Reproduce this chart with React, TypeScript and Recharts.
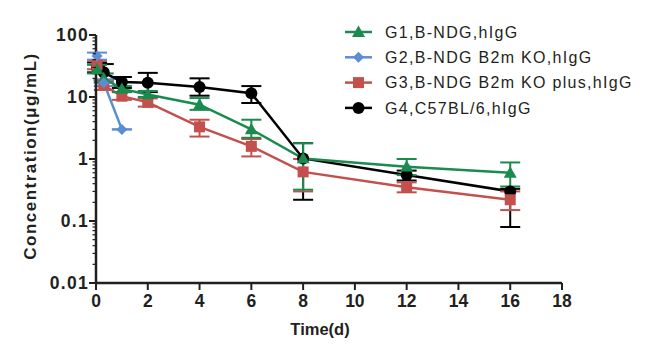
import { ErrorBar, Line, LineChart, XAxis, YAxis } from "recharts";

// sampling times (days) – the first two are the early hour time points
const timesFull = [0.04, 0.3, 1, 2, 4, 6, 8, 12, 16];
const timesG2 = [0.04, 0.3, 1];

const g1Mean = [28, 20, 13.5, 11, 7.5, 3, 1.02, 0.75, 0.6];
const g1Low = [24, 17, 12, 10, 6.2, 2.2, 0.32, 0.55, 0.36];
const g1High = [33, 24, 15, 12.5, 9.6, 4.3, 1.8, 1.0, 0.88];

const g2Mean = [46, 17, 3.0];
const g2Low = [40, 15, 3.0];
const g2High = [52, 19, 3.0];

const g3Mean = [33, 15.5, 10.3, 8.2, 3.3, 1.6, 0.62, 0.35, 0.22];
const g3Low = [28, 13, 9, 7, 2.3, 1.1, 0.3, 0.29, 0.15];
const g3High = [38, 18, 12, 9.5, 4.3, 2.1, 1.0, 0.42, 0.3];

const g4Mean = [30, 25, 17.5, 17, 14.5, 11.5, 1.02, 0.55, 0.3];
const g4Low = [25, 19, 14, 12, 10.5, 8, 0.22, 0.45, 0.08];
const g4High = [36, 34, 21, 24.5, 20, 15, 1.8, 0.65, 0.33];

const xTicks = [0, 2, 4, 6, 8, 10, 12, 14, 16, 18];
const decades = [0.01, 0.1, 1, 10, 100];
const minorSteps = [2, 3, 4, 5, 6, 7, 8, 9];

const FONT = "'Liberation Sans', Arial, Helvetica, sans-serif";
const INK = "#231f20";

type Shape = "triangle" | "diamond" | "square" | "circle";

interface Series {
  name: string;
  color: string;
  shape: Shape;
  times: number[];
  mean: number[];
  low: number[];
  high: number[];
}

const series: Series[] = [
  { name: "G1,B-NDG,hIgG", color: "#1b8a4e", shape: "triangle", times: timesFull, mean: g1Mean, low: g1Low, high: g1High },
  { name: "G2,B-NDG B2m KO,hIgG", color: "#5b8dd3", shape: "diamond", times: timesG2, mean: g2Mean, low: g2Low, high: g2High },
  { name: "G3,B-NDG B2m KO plus,hIgG", color: "#c4504e", shape: "square", times: timesFull, mean: g3Mean, low: g3Low, high: g3High },
  { name: "G4,C57BL/6,hIgG", color: "#000000", shape: "circle", times: timesFull, mean: g4Mean, low: g4Low, high: g4High },
];

// draw order: black under the coloured groups
const drawOrder = [3, 2, 0, 1];

const yTicks = [
  ...decades,
  ...decades.slice(0, -1).flatMap((d) => minorSteps.map((m) => d * m)),
].sort((a, b) => a - b);

function rowsFor(s: Series) {
  return s.times.map((t, i) => ({
    t,
    v: s.mean[i],
    err: [s.mean[i] - s.low[i], s.high[i] - s.mean[i]],
  }));
}

function Marker({ cx, cy, shape, color }: { cx: number; cy: number; shape: Shape; color: string }) {
  if (cx == null || cy == null) return null;
  if (shape === "triangle") {
    const r = 6.5;
    return <polygon points={`${cx},${cy - r} ${cx + r},${cy + r * 0.75} ${cx - r},${cy + r * 0.75}`} fill={color} />;
  }
  if (shape === "diamond") {
    const r = 5.5;
    return <polygon points={`${cx},${cy - r} ${cx + r},${cy} ${cx},${cy + r} ${cx - r},${cy}`} fill={color} />;
  }
  if (shape === "square") {
    const r = 5.5;
    return <rect x={cx - r} y={cy - r} width={r * 2} height={r * 2} fill={color} />;
  }
  return <circle cx={cx} cy={cy} r={6} fill={color} />;
}

function YTick(props: any) {
  const { x, y, payload } = props;
  const v = payload.value as number;
  const major = decades.includes(v);
  return (
    <g>
      <line x1={x - (major ? 7 : 3.5)} x2={x} y1={y} y2={y} stroke={INK} strokeWidth={major ? 2 : 1.2} />
      {major && (
        <text
          x={x - 7}
          y={y}
          dy="0.36em"
          textAnchor="end"
          fontFamily={FONT}
          fontWeight="bold"
          fontSize={17.5}
          letterSpacing={1.3}
          fill={INK}
        >
          {String(v)}
        </text>
      )}
    </g>
  );
}

function YLabel(props: any) {
  const vb = props.viewBox;
  const cx = vb.x + 22;
  const cy = vb.y + vb.height / 2 - 3;
  return (
    <text
      x={cx}
      y={cy}
      transform={`rotate(-90 ${cx} ${cy})`}
      textAnchor="middle"
      dominantBaseline="central"
      fontFamily={FONT}
      fontWeight="bold"
      fontSize={17}
      letterSpacing={1.5}
      fill={INK}
    >
      Concentration(μg/mL)
    </text>
  );
}

function XLabel(props: any) {
  const vb = props.viewBox;
  return (
    <text x={vb.x + vb.width / 2 - 9} y={vb.y + 52} textAnchor="middle" fontFamily={FONT} fontWeight="bold" fontSize={16.5} fill={INK}>
      Time(d)
    </text>
  );
}

function LegendBox() {
  return (
    <svg width={300} height={120} style={{ position: "absolute", left: 330, top: 10 }}>
      {series.map((s, i) => {
        const y = 14 + i * 25.3;
        return (
          <g key={s.name}>
            <line x1={7} x2={34} y1={y} y2={y} stroke={s.color} strokeWidth={2.5} />
            <Marker cx={20.5} cy={y} shape={s.shape} color={s.color} />
            <text x={47} y={y} dy="0.36em" fontFamily={FONT} fontSize={16} letterSpacing={1.3} fill={INK}>
              {s.name}
            </text>
          </g>
        );
      })}
    </svg>
  );
}

export default function App() {
  return (
    <div style={{ position: "relative", width: 642, height: 355 }}>
      <LineChart width={642} height={355} margin={{ top: 27, right: 88, bottom: 20, left: 0 }}>
        <XAxis
          dataKey="t"
          type="number"
          domain={[0, 18]}
          ticks={xTicks}
          interval={0}
          allowDuplicatedCategory={false}
          height={60}
          axisLine={{ stroke: INK, strokeWidth: 2.5 }}
          tickLine={{ stroke: INK, strokeWidth: 2 }}
          tickSize={7}
          tickMargin={5}
          tick={{ fontFamily: FONT, fontWeight: "bold", fontSize: 17.5, fill: INK }}
          label={<XLabel />}
        />
        <YAxis
          type="number"
          scale="log"
          domain={[0.01, 100]}
          allowDataOverflow
          ticks={yTicks}
          interval={0}
          width={88}
          axisLine={{ stroke: INK, strokeWidth: 2.5 }}
          tickLine={false}
          tickSize={0}
          tickMargin={0}
          tick={<YTick />}
          label={<YLabel />}
        />
        {drawOrder.map((idx) => {
          const s = series[idx];
          return (
            <Line
              key={s.name}
              data={rowsFor(s)}
              dataKey="v"
              type="linear"
              stroke={s.color}
              strokeWidth={2.5}
              isAnimationActive={false}
              dot={(p: any) => <Marker key={`${s.name}-${p.index}`} cx={p.cx} cy={p.cy} shape={s.shape} color={s.color} />}
              activeDot={false}
            >
              <ErrorBar dataKey="err" direction="y" width={10} strokeWidth={2} stroke={s.color} isAnimationActive={false} />
            </Line>
          );
        })}
      </LineChart>
      <LegendBox />
    </div>
  );
}
